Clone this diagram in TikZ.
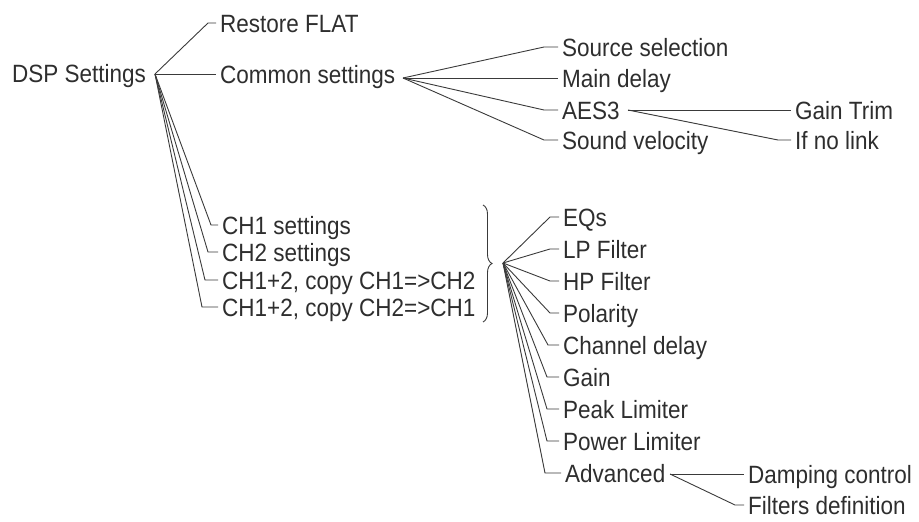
\documentclass[tikz,border=0pt]{standalone}
\usepackage{fontspec}
\setmainfont{Liberation Sans}[FakeStretch=0.9]
\usetikzlibrary{calc, decorations.pathreplacing}
\definecolor{txtgrey}{HTML}{2E2E2E}
\definecolor{wiregrey}{HTML}{3A3A3A}
\tikzset{
    lbl/.style={anchor=west, inner xsep=4pt, inner ysep=0pt, text height=18pt, text depth=0pt,
        text=txtgrey, font=\fontsize{25}{29}\selectfont},
    wire/.style={draw=wiregrey, line width=0.9pt}
}

\begin{document}
\begin{tikzpicture}[x=1pt, y=-1pt]
        \useasboundingbox (0,0) rectangle (919,522);
        \node[lbl] (dsp) at (8,73) {DSP Settings};
        \node[lbl] (restore) at (216,23) {Restore FLAT};
        \node[lbl] (common) at (216,74) {Common settings};
        \node[lbl] (source) at (558,47) {Source selection};
        \node[lbl] (maindelay) at (558,78) {Main delay};
        \node[lbl] (aes) at (558,110) {AES3};
        \node[lbl] (sound) at (558,140) {Sound velocity};
        \node[lbl] (gaintrim) at (791,110) {Gain Trim};
        \node[lbl] (nolink) at (791,140) {If no link};
        \node[lbl] (ch1) at (218,225) {CH1 settings};
        \node[lbl] (ch2) at (218,252) {CH2 settings};
        \node[lbl] (ch12) at (218,280) {CH1+2, copy CH1=>CH2};
        \node[lbl] (ch21) at (218,307) {CH1+2, copy CH2=>CH1};
        \node[lbl] (eqs) at (559,217) {EQs};
        \node[lbl] (lpf) at (559,249) {LP Filter};
        \node[lbl] (hpf) at (559,281) {HP Filter};
        \node[lbl] (polarity) at (559,313) {Polarity};
        \node[lbl] (chdelay) at (559,345) {Channel delay};
        \node[lbl] (gain) at (559,377) {Gain};
        \node[lbl] (peak) at (559,409) {Peak Limiter};
        \node[lbl] (power) at (559,441) {Power Limiter};
        \node[lbl] (advanced) at (561,473) {Advanced};
        \node[lbl] (damping) at (744,474) {Damping control};
        \node[lbl] (filters) at (744,505) {Filters definition};
        \coordinate (dspfan) at (155,74);
        \coordinate (comfan) at (403,78);
        \coordinate (aesfan) at (628,110);
        \coordinate (chfan) at (503,263);
        \coordinate (advfan) at (670,474);
        \draw[wire] (dspfan) -- ($(restore.west)+(-8,0)$) -- (restore.west);
        \draw[wire] (dspfan) -- (common.west);
        \foreach \n/\s in {ch1/7, ch2/10, ch12/13, ch21/16}
            \draw[wire] (dspfan) -- ($(\n.west)+(-\s,0)$) -- (\n.west);
        \draw[wire] (comfan) -- (maindelay.west);
        \foreach \n in {source, aes, sound}
            \draw[wire] (comfan) -- ($(\n.west)+(-14,0)$) -- (\n.west);
        \draw[wire] (aesfan) -- (gaintrim.west);
        \draw[wire] (aesfan) -- ($(nolink.west)+(-13,0)$) -- (nolink.west);
        \foreach \n/\s in {eqs/9, lpf/9, hpf/9, polarity/9, chdelay/11, gain/12, peak/12, power/12, advanced/16}
            \draw[wire] (chfan) -- ($(\n.west)+(-\s,0)$) -- (\n.west);
        \draw[wire] (advfan) -- (damping.west);
        \draw[wire] (advfan) -- ($(filters.west)+(-9,0)$) -- (filters.west);
        \draw[wire, decorate, decoration={brace, amplitude=9pt}] (483,205) -- (483,322);
\end{tikzpicture}
\end{document}
